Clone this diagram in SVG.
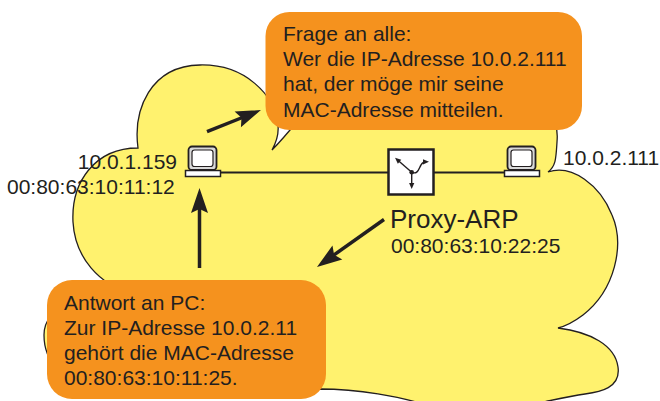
<svg xmlns="http://www.w3.org/2000/svg" width="660" height="401" viewBox="0 0 660 401">
  <defs>
    <style>
      .cloud { fill: #FFF26E; stroke: #231F20; stroke-width: 1.3; }
      .bubble { fill: #F5921E; }
      .txt { font-family: "Liberation Sans", Arial, sans-serif; font-size: 21px; fill: #231F20; }
      .big { font-size: 26px; }
      .link { stroke: #231F20; stroke-width: 2; fill: none; }
      .arrow { stroke: #231F20; stroke-width: 3.5; fill: none; marker-end: url(#head); }
      .mon { fill: #D9D9D9; stroke: #231F20; stroke-width: 1.8; }
      .scr { fill: #FFFFFF; stroke: #231F20; stroke-width: 1.2; }
      .base { fill: #FFFFFF; stroke: #231F20; stroke-width: 1.5; }
      .rbox { fill: #FFFFFF; stroke: #231F20; stroke-width: 2.5; }
      .rsym { stroke: #231F20; stroke-width: 1.4; fill: none; marker-end: url(#tip); }
    </style>
    <marker id="head" viewBox="-6 -10 27 20" refX="0" refY="0" markerWidth="27" markerHeight="20" markerUnits="userSpaceOnUse" orient="auto">
      <path d="M20,0 L-5,-8.5 L-1,0 L-5,8.5 Z" fill="#231F20"/>
    </marker>
    <marker id="tip" viewBox="-4 -3 8 6" refX="0" refY="0" markerWidth="8" markerHeight="6" markerUnits="userSpaceOnUse" orient="auto">
      <path d="M3,0 L-3,-2.6 L-3,2.6 Z" fill="#231F20"/>
    </marker>
  </defs>

  <!-- network cloud -->
  <path id="cloud" class="cloud" d="M138,148 C133,110 150,66 200,65 C245,64 275,95 278,125 C279,135 276,143 272,150 C284,138 295,124 305,112 C380,40 490,40 548,110 C556,118 558,130 557,142 C556,158 556,166 548,172 C572,164 600,185 612,215 C625,245 615,290 583,315 C575,321 566,326 558,328 C590,332 615,345 618,367 C621,388 600,392 585,394 C565,397 545,402 533,404 L423,404 C400,397 360,389 320,389 C250,392 150,396 100,388 C60,382 44,360 44,335 C44,305 85,292 130,292 C100,285 75,258 73,222 C71,182 95,148 138,148 Z"/>

  <!-- connectors -->
  <g id="connectors">
    <line class="link" x1="220" y1="172.5" x2="388" y2="172.5"/>
    <line class="link" x1="434" y1="172.5" x2="504.5" y2="172.5"/>
    <line class="arrow" x1="207" y1="131.7" x2="242.4" y2="117.5"/>
    <line class="arrow" x1="199.5" y1="268" x2="199.5" y2="208"/>
    <line class="arrow" x1="384" y1="219.5" x2="333.3" y2="255.4"/>
  </g>

  <!-- PC 10.0.1.159 -->
  <g id="pc-left">
    <rect class="mon" x="188.5" y="146.5" width="28" height="23.5" rx="3.5"/>
    <rect class="scr" x="192" y="150" width="21" height="16.5" rx="2.5"/>
    <rect class="base" x="185.5" y="170.5" width="35" height="6"/>
    <text class="txt" x="177" y="169" text-anchor="end">10.0.1.159</text>
    <text class="txt" x="7" y="194">00:80:63:10:11:12</text>
  </g>

  <!-- PC 10.0.2.111 -->
  <g id="pc-right">
    <rect class="mon" x="507.5" y="146.5" width="28" height="23.5" rx="3.5"/>
    <rect class="scr" x="511" y="150" width="21" height="16.5" rx="2.5"/>
    <rect class="base" x="504.5" y="170.5" width="35" height="6"/>
    <text class="txt" x="563" y="164.5">10.0.2.111</text>
  </g>

  <!-- router doing proxy ARP -->
  <g id="router">
    <rect class="rbox" x="388.5" y="149.5" width="45" height="45"/>
    <line class="rsym" x1="411.7" y1="172.3" x2="397.3" y2="159.7"/>
    <line class="rsym" x1="411.7" y1="172.3" x2="411.7" y2="186"/>
    <path class="rsym" d="M411.7,172.3 C418,175 419,168 421,165 C423,161.5 424,161.8 426,161.8"/>
    <circle cx="411.7" cy="172.3" r="2.3" fill="#231F20"/>
    <text class="txt big" x="390" y="227.5">Proxy-ARP</text>
    <text class="txt" x="391" y="252.5">00:80:63:10:22:25</text>
  </g>

  <!-- broadcast request -->
  <g id="request">
    <rect class="bubble" x="265.5" y="12" width="316.5" height="118" rx="24"/>
    <text class="txt" x="283" y="40.5">Frage an alle:</text>
    <text class="txt" x="283" y="66">Wer die IP-Adresse 10.0.2.111</text>
    <text class="txt" x="283" y="91.4">hat, der möge mir seine</text>
    <text class="txt" x="283" y="116.8">MAC-Adresse mitteilen.</text>
  </g>

  <!-- proxy reply -->
  <g id="reply">
    <rect class="bubble" x="47" y="280" width="279" height="119" rx="25"/>
    <text class="txt" x="64" y="310">Antwort an PC:</text>
    <text class="txt" x="64" y="335">Zur IP-Adresse 10.0.2.11</text>
    <text class="txt" x="64" y="360">gehört die MAC-Adresse</text>
    <text class="txt" x="64" y="385">00:80:63:10:11:25.</text>
  </g>
</svg>
